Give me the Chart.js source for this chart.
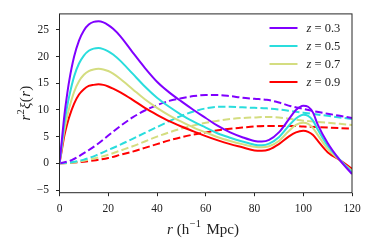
<!DOCTYPE html>
<html>
<head>
<meta charset="utf-8">
<script src="https://cdn.jsdelivr.net/npm/chart.js@4"></script>
<style>
  html, body { margin: 0; padding: 0; background: #fff; }
  canvas { display: block; }
</style>
</head>
<body>
<canvas id="xiChart" width="374" height="249"></canvas>
<script>
// separaciones r (h^-1 Mpc) para las curvas sólidas
const rSolid = [0, 1, 2, 3, 4, 6, 8, 10, 12, 14, 16, 18, 20, 22, 25, 30, 35, 40, 45, 50, 55, 60, 65, 70, 75, 80, 83, 86, 90, 94, 97, 100, 102, 104, 106, 110, 115, 120];
// r^2 xi(r) sólido por redshift
const solidZ03 = [0, 4.5, 9, 12.5, 15.5, 20, 23, 24.9, 26, 26.5, 26.6, 26.4, 25.9, 25.2, 23.8, 20.8, 17.9, 15.3, 13.3, 11.6, 10.0, 8.5, 7.0, 5.8, 4.9, 4.2, 4.1, 4.4, 5.8, 8.2, 10.0, 10.8, 10.6, 9.5, 7.2, 3.8, 0.6, -2.0];
const solidZ05 = [0, 3.7, 7.5, 10.3, 12.6, 16.3, 18.7, 20.2, 21.1, 21.5, 21.6, 21.4, 21.0, 20.4, 19.2, 16.8, 14.4, 12.3, 10.6, 9.1, 7.8, 6.7, 5.6, 4.8, 4.1, 3.5, 3.4, 3.7, 4.9, 7.0, 8.4, 9.1, 8.9, 8.0, 6.3, 3.3, 0.7, -1.7];
const solidZ07 = [0, 3.1, 6.2, 8.5, 10.4, 13.4, 15.4, 16.6, 17.3, 17.6, 17.7, 17.6, 17.3, 16.8, 15.8, 13.9, 12.0, 10.4, 9.0, 7.8, 6.7, 5.8, 4.9, 4.2, 3.6, 3.1, 3.0, 3.2, 4.2, 6.0, 7.2, 7.6, 7.4, 6.6, 5.3, 2.7, 0.6, -1.4];
const solidZ09 = [0, 2.6, 5.2, 7.1, 8.7, 11.2, 12.9, 13.9, 14.5, 14.7, 14.8, 14.7, 14.4, 14.0, 13.3, 11.9, 10.4, 9.1, 7.9, 6.9, 6.0, 5.1, 4.3, 3.6, 3.0, 2.4, 2.35, 2.6, 3.6, 5.0, 5.8, 6.1, 5.9, 5.3, 4.2, 2.1, 0.6, -1.0];

// curvas discontinuas
const rDash = [0, 5, 10, 15, 20, 25, 30, 35, 40, 45, 50, 55, 60, 65, 70, 75, 80, 85, 90, 95, 100, 105, 110, 115, 120];
const dashZ03 = [0, 0.6, 1.9, 3.4, 5.2, 7.0, 8.6, 9.9, 10.9, 11.7, 12.2, 12.6, 12.8, 12.8, 12.6, 12.3, 12.1, 11.9, 11.4, 10.7, 10.2, 9.7, 9.3, 8.9, 8.5];
const dashZ05 = [0, 0.2, 0.7, 1.5, 2.5, 3.5, 4.6, 5.7, 6.8, 7.9, 8.9, 9.7, 10.3, 10.6, 10.6, 10.5, 10.4, 10.3, 10.1, 9.8, 9.5, 9.2, 8.9, 8.6, 8.3];
const dashZ07 = [0, 0.1, 0.5, 1.0, 1.6, 2.4, 3.2, 4.1, 5.0, 5.8, 6.5, 7.1, 7.6, 8.0, 8.3, 8.5, 8.6, 8.7, 8.6, 8.3, 8.0, 7.8, 7.6, 7.4, 7.2];
const dashZ09 = [0, 0.1, 0.3, 0.6, 1.0, 1.6, 2.2, 2.9, 3.6, 4.3, 4.9, 5.4, 5.8, 6.2, 6.5, 6.7, 6.9, 7.0, 7.0, 7.0, 6.9, 6.8, 6.7, 6.6, 6.5];

const zLabels = ['0.3', '0.5', '0.7', '0.9'];
const colores = ['#8000ff', '#2adddd', '#d4dd80', '#ff0000'];
const xTicks = [0, 20, 40, 60, 80, 100, 120];
const yTicks = [-5, 0, 5, 10, 15, 20, 25];

const serif = '"Liberation Serif", "DejaVu Serif", serif';
const solids = [solidZ03, solidZ05, solidZ07, solidZ09];
const dashes = [dashZ03, dashZ05, dashZ07, dashZ09];

function pts(xs, ys) {
  return xs.map((x, i) => ({ x: x, y: ys[i] }));
}

const datasets = [];
solids.forEach((s, i) => {
  datasets.push({
    label: 'z = ' + zLabels[i],
    data: pts(rSolid, s),
    borderColor: colores[i],
    borderWidth: 2,
    pointRadius: 0,
    cubicInterpolationMode: 'monotone',
    fill: false
  });
});
dashes.forEach((d, i) => {
  datasets.push({
    label: 'dash ' + zLabels[i],
    data: pts(rDash, d),
    borderColor: colores[i],
    borderWidth: 2,
    borderDash: [7.4, 3.2],
    pointRadius: 0,
    cubicInterpolationMode: 'monotone',
    fill: false
  });
});

// marco, leyenda y títulos de ejes
const decoPlugin = {
  id: 'deco',
  afterDraw(chart) {
    const ctx = chart.ctx;
    const a = chart.chartArea;
    ctx.save();
    ctx.strokeStyle = '#262626';
    ctx.lineWidth = 1;
    ctx.strokeRect(a.left, a.top, a.right - a.left, a.bottom - a.top);

    // leyenda (sólo curvas sólidas)
    ctx.textBaseline = 'middle';
    for (let i = 0; i < 4; i++) {
      const y = 28 + i * 18;
      ctx.strokeStyle = colores[i];
      ctx.lineWidth = 2;
      ctx.setLineDash([]);
      ctx.beginPath();
      ctx.moveTo(269.5, y);
      ctx.lineTo(297.5, y);
      ctx.stroke();
      ctx.fillStyle = '#222';
      ctx.font = 'italic 12.5px ' + serif;
      ctx.fillText('z', 306.5, y + 0.5);
      ctx.font = '12.5px ' + serif;
      ctx.fillText('= ' + zLabels[i], 314.5, y + 0.5);
    }

    // título eje x: r (h^-1 Mpc)
    ctx.fillStyle = '#222';
    ctx.textBaseline = 'alphabetic';
    let x = 167;
    const by = 233.5;
    ctx.font = 'italic 15px ' + serif;
    ctx.fillText('r', x, by); x += ctx.measureText('r').width + 4;
    ctx.font = '15px ' + serif;
    ctx.fillText('(h', x, by); x += ctx.measureText('(h').width;
    ctx.font = '10.5px ' + serif;
    ctx.fillText('\u22121', x + 0.5, by - 6.5); x += ctx.measureText('\u22121').width + 6;
    ctx.font = '15px ' + serif;
    ctx.fillText('Mpc)', x, by);

    // título eje y: r^2 xi(r)
    ctx.translate(30, 103);
    ctx.rotate(-Math.PI / 2);
    const parts = [
      { t: 'r', f: 'italic 15px ', dy: 0 },
      { t: '2', f: '10.5px ', dy: -6.5 },
      { t: '\u03be', f: 'italic 15px ', dy: 0 },
      { t: '(', f: '15px ', dy: 0 },
      { t: 'r', f: 'italic 15px ', dy: 0 },
      { t: ')', f: '15px ', dy: 0 }
    ];
    let w = 0;
    parts.forEach(p => { ctx.font = p.f + serif; w += ctx.measureText(p.t).width + 0.3; });
    let px = -w / 2;
    parts.forEach(p => {
      ctx.font = p.f + serif;
      ctx.fillText(p.t, px, p.dy);
      px += ctx.measureText(p.t).width + 0.3;
    });
    ctx.restore();
  }
};

new Chart(document.getElementById('xiChart').getContext('2d'), {
  type: 'line',
  data: { datasets: datasets },
  options: {
    responsive: false,
    animation: false,
    events: [],
    layout: { padding: { left: 0, right: 22, top: 12.7, bottom: 0 } },
    plugins: { legend: { display: false }, tooltip: { enabled: false } },
    scales: {
      x: {
        type: 'linear',
        min: 0,
        max: 120,
        afterFit(scale) { scale.height = 56.3; },
        afterBuildTicks(scale) { scale.ticks = xTicks.map(v => ({ value: v })); },
        grid: { drawOnChartArea: false, drawTicks: true, tickLength: 3.5, color: '#262626' },
        border: { display: false },
        ticks: { padding: 6, color: '#222', font: { family: serif, size: 11.5 }, maxRotation: 0 }
      },
      y: {
        type: 'linear',
        min: -5.5,
        max: 28,
        afterFit(scale) { scale.width = 59.5; },
        afterBuildTicks(scale) { scale.ticks = yTicks.map(v => ({ value: v })); },
        grid: { drawOnChartArea: false, drawTicks: true, tickLength: 3.5, color: '#262626' },
        border: { display: false },
        ticks: {
          padding: 7,
          color: '#222',
          font: { family: serif, size: 11.5 },
          callback: v => (v < 0 ? '\u2212' + Math.abs(v) : String(v))
        }
      }
    }
  },
  plugins: [decoPlugin]
});
</script>
</body>
</html>
